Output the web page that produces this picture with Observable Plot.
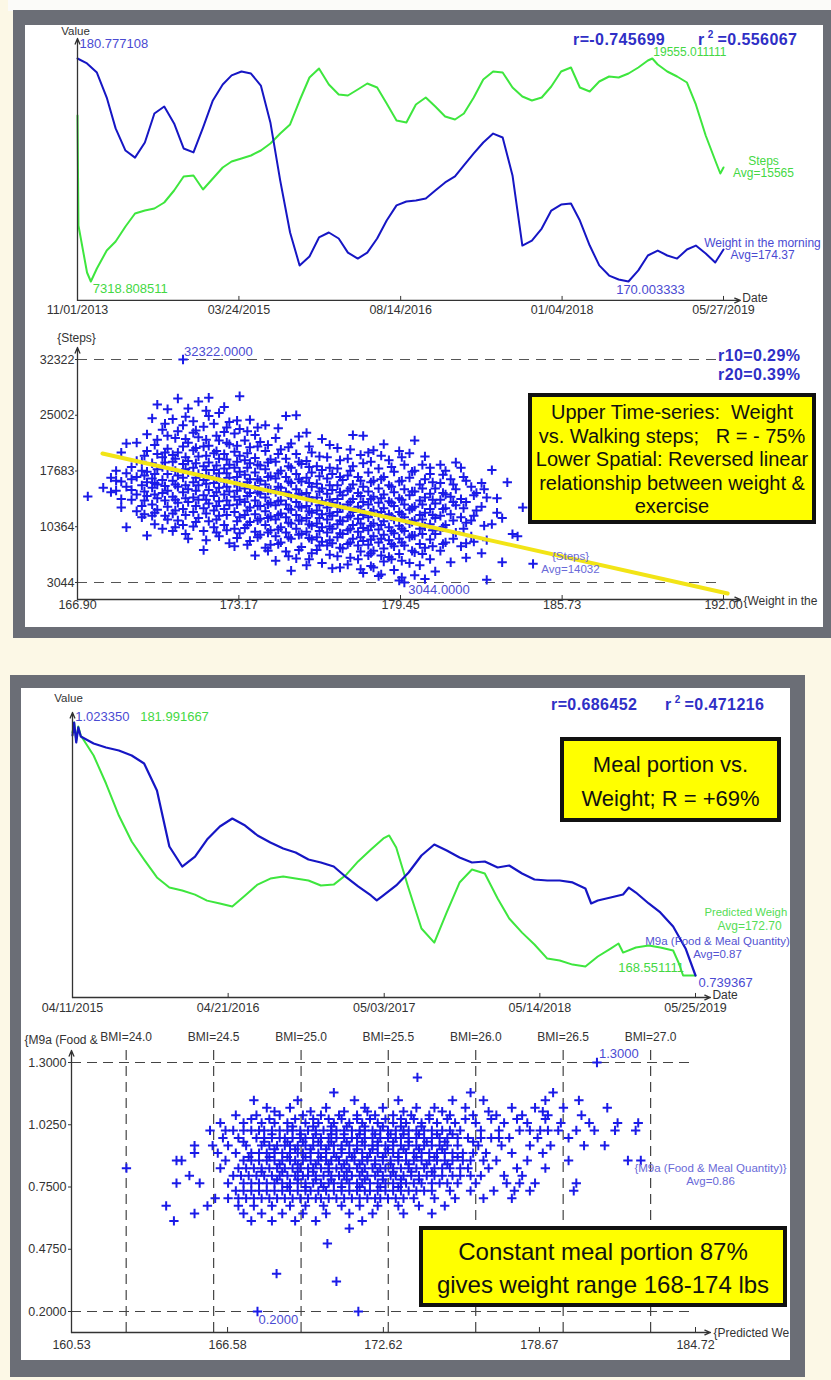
<!DOCTYPE html>
<html lang="en">
<head>
<meta charset="utf-8">
<title>Weight, walking steps and meal portion</title>
<script src="https://cdn.jsdelivr.net/npm/d3@7"></script>
<script src="https://cdn.jsdelivr.net/npm/@observablehq/plot@0.6"></script>
<style>
html,body{margin:0;padding:0}
body{width:831px;height:1380px;position:relative;overflow:hidden;background:#fcf8e6;font-family:"Liberation Sans",Arial,Helvetica,sans-serif}
.frame{position:absolute;background:#6b6e76}
.inner{position:absolute;background:#fff;overflow:hidden}
.origin{position:absolute;width:831px;height:1380px}
.chart{position:absolute;left:0;width:831px}
.rt{position:absolute;font-weight:bold;color:#2f2fc6;font-size:16px;line-height:16px;white-space:nowrap;letter-spacing:0.4px}
.rt sup{font-size:10px;vertical-align:0;position:relative;top:-7px;margin:0 4px 0 3px}
.ybox{position:absolute;box-sizing:border-box;background:#ffff00;border:4px solid #111;text-align:center;color:#111;white-space:pre}
</style>
</head>
<body>
<div style="position:absolute;left:8px;top:0;width:823px;height:11px;background:#fbfbf9"></div>
<div class="frame" style="left:13px;top:10px;width:818px;height:628px"></div>
<div class="inner" style="left:25px;top:25px;width:798px;height:602px"><div class="origin" id="c1" style="left:-25px;top:-25px"></div></div>
<div class="frame" style="left:10px;top:675px;width:795px;height:702px"></div>
<div class="inner" style="left:21px;top:688px;width:769px;height:672px"><div class="origin" id="c2" style="left:-21px;top:-688px"></div></div>

<div class="rt" style="left:573px;top:32px">r=-0.745699</div>
<div class="rt" style="left:698px;top:32px">r<sup>2</sup>=0.556067</div>
<div class="rt" style="left:718px;top:348px">r10=0.29%</div>
<div class="rt" style="left:718px;top:367px">r20=0.39%</div>
<div class="rt" style="left:551px;top:697px">r=0.686452</div>
<div class="rt" style="left:665px;top:697px">r<sup>2</sup>=0.471216</div>

<div class="ybox" style="left:528px;top:393px;width:288px;height:131px;font-size:20px;line-height:23.5px;padding-top:4px">Upper Time-series:  Weight
vs. Walking steps;   R = - 75%
Lower Spatial: Reversed linear
relationship between weight &amp;
exercise</div>
<div class="ybox" style="left:560px;top:737px;width:221px;height:85px;font-size:22px;line-height:34px;padding-top:7px">Meal portion vs.
Weight; R = +69%</div>
<div class="ybox" style="left:419px;top:1226px;width:368px;height:81px;font-size:24px;line-height:33px;padding-top:5px">Constant meal portion 87%
gives weight range 168-174 lbs</div>

<script>
// ---------------- DATA ----------------
// Panel 1, time series: weight in the morning (blue)
const weightDates = [
"2013-11-01","2013-12-01","2014-01-01","2014-02-01","2014-03-01","2014-04-01","2014-05-01","2014-06-01","2014-07-01","2014-08-01","2014-09-01","2014-10-01",
"2014-11-01","2014-12-01","2015-01-01","2015-02-01","2015-03-01","2015-04-01","2015-05-01","2015-06-01","2015-07-01","2015-08-01","2015-09-01","2015-10-01",
"2015-11-01","2015-12-01","2016-01-01","2016-02-01","2016-03-01","2016-04-01","2016-05-01","2016-06-01","2016-07-01","2016-08-01","2016-09-01","2016-10-01",
"2016-11-01","2016-12-01","2017-01-01","2017-02-01","2017-03-01","2017-04-01","2017-05-01","2017-06-01","2017-07-01","2017-08-01","2017-09-01","2017-10-01",
"2017-11-01","2017-12-01","2018-01-01","2018-02-01","2018-03-01","2018-04-01","2018-05-01","2018-06-01","2018-07-01","2018-08-01","2018-09-01","2018-10-01",
"2018-11-01","2018-12-01","2019-01-01","2019-02-01","2019-03-01","2019-04-01","2019-05-01","2019-05-27"];
const weightVals = [
180.777108,180.54,180.10,178.89,177.40,176.33,175.99,176.72,178.12,178.46,177.64,176.43,
176.24,177.44,178.75,179.52,179.96,180.15,180.05,179.47,177.69,174.88,172.37,170.78,
171.21,172.13,172.37,172.08,171.40,171.11,171.40,172.08,172.95,173.68,173.87,173.92,
174.01,174.40,174.79,175.08,175.61,176.19,176.72,177.15,176.96,175.13,171.74,171.98,
172.56,173.43,173.72,173.77,172.95,171.74,170.78,170.29,170.10,170.003333,170.54,171.26,
171.50,171.26,171.11,171.55,171.74,171.36,170.92,171.55];

// Panel 1, time series: steps (green)
const stepDates = ["2013-11-01","2013-11-04","2013-12-01","2013-12-13",
"2014-01-01","2014-02-01","2014-03-01","2014-04-01","2014-05-01","2014-06-01","2014-07-01","2014-08-01","2014-09-01","2014-10-01","2014-11-01","2014-12-01",
"2015-01-01","2015-02-01","2015-03-01","2015-04-01","2015-05-01","2015-06-01","2015-07-01","2015-08-01","2015-09-01","2015-10-01","2015-11-01","2015-12-01",
"2016-01-01","2016-02-01","2016-03-01","2016-04-01","2016-05-01","2016-06-01","2016-07-01","2016-08-01","2016-09-01","2016-10-01","2016-11-01","2016-12-01",
"2017-01-01","2017-02-01","2017-03-01","2017-04-01","2017-05-01","2017-06-01","2017-07-01","2017-08-01","2017-09-01","2017-10-01","2017-11-01","2017-12-01",
"2018-01-01","2018-02-01","2018-03-01","2018-04-01","2018-05-01","2018-06-01","2018-07-01","2018-08-01","2018-09-01","2018-10-01","2018-10-15","2018-11-01","2018-12-01",
"2019-01-01","2019-02-01","2019-03-01","2019-04-01","2019-05-01","2019-05-17","2019-05-27"];
const stepVals = [16427,10392,7813,7318.808511,
8032,9020,9514,10337,11050,11215,11325,11654,12312,13080,13135,12367,
12971,13574,13903,14068,14233,14507,14891,15440,15934,17250,18512,19006,
18128,17580,17525,17854,18183,17964,17086,16153,16043,17031,17415,16921,
16373,16208,16537,17415,18403,18842,18787,17964,17470,17250,17415,18019,
18842,19061,17964,17744,18293,18567,18512,18732,19061,19445,19555.011111,19226,18842,
18567,18238,17031,15330,13958,13245,13574];

const ts1TickDates = ["2013-11-01","2015-03-24","2016-08-14","2018-01-04","2019-05-27"];

// Panel 1, scatter: weight (lbs) column -> daily steps
const scatter1 = [
[167.3,[14340]],[167.9,[15500]],[168.2,[16800,14900]],[168.4,[17700,16400,15100]],
[168.6,[20100,14000,16300,12900]],[168.8,[21300,17400,15600,10300]],[169.0,[18200,16600,13900,15200]],
[169.2,[21400,19000,14600,12400,16900]],[169.4,[17700,15800,13100,11600,18900]],
[169.6,[22500,20300,16200,14400,9200,17600]],[169.8,[24600,18700,15500,13300,11800,16700]],
[170.0,[26400,21800,17900,15900,14100,12600,19900]],[170.2,[23100,19500,16500,14800,10100,18200]],
[170.4,[25800,20600,17300,15100,13000,11300,22300]],[170.6,[24500,18900,16400,14300,12100,19800,9800]],
[170.8,[27200,22900,20100,17100,15600,13500,11200]],[171.0,[32322,23700,18600,16800,14900,12700,10600,20900]],
[171.2,[25900,21400,19000,17500,15300,13600,8800]],[171.4,[24200,20400,18100,16200,14200,12300,10400,22700]],
[171.6,[26800,22100,19600,17300,15800,13900,11500]],[171.8,[23500,20900,18300,16500,14500,12800,7300,9800]],
[172.0,[27300,24900,21000,18800,17000,15200,13400,11100]],[172.2,[23900,20000,17800,16100,14400,12500,10300]],
[172.4,[25300,21700,19300,17400,15500,13700,11800,9100]],[172.6,[26100,22800,19900,18000,16300,14600,12700,10600]],
[172.8,[24100,21200,18500,16800,15000,13200,8200]],[173.0,[22600,20200,18100,16100,14300,12300,10100,7800]],
[173.2,[27500,23200,19700,17600,15800,13900,11600,9500]],[173.4,[21700,19100,17200,15400,13600,11900,10200]],
[173.6,[24400,20800,18700,16600,14800,12900,11000,8500]],[173.8,[22400,19400,17500,15700,13800,12000,9700,6600]],
[174.0,[21500,18400,16400,14700,13100,11400,9300]],[174.2,[23700,20300,17900,15900,14200,12400,10600,7600]],
[174.4,[19200,17000,15200,13500,11700,9900,8000]],[174.6,[22000,18900,16700,14900,13200,11300,9100,5900]],
[174.8,[20500,17700,15500,13800,12100,10300,8300]],[175.0,[24900,19300,16900,14900,13300,11600,9600,7100]],
[175.2,[21300,18100,16100,14300,12600,10800,8800,4600]],[175.4,[25000,19900,17300,15300,13600,11900,10100,6200]],
[175.6,[18600,16300,14600,12900,11200,9400,7700]],[175.8,[22700,19000,16800,14800,13100,11500,9700,5300]],
[176.0,[20100,17500,15600,13800,12200,10500,8700,6900]],[176.2,[18300,16000,14200,12500,10800,9000,7300]],
[176.4,[21900,17800,15400,13700,12000,10300,8400,5600]],[176.6,[19500,16700,14700,12900,11300,9600,7900]],
[176.8,[17300,15200,13500,11800,10100,8200,4900]],[177.0,[20700,18000,15800,14000,12300,10700,9000,6500]],
[177.2,[16500,14500,12800,11100,9400,7500]],[177.4,[19300,17100,15100,13300,11600,9900,8100,5400]],
[177.6,[22400,18300,15900,14000,12300,10600,8800]],[177.8,[16900,14800,13000,11400,9700,7900,6100]],
[178.0,[22300,18700,15600,13600,11900,10200,8500,4300]],[178.2,[20100,17500,15000,13300,11600,9900,8000,6600]],
[178.4,[20400,16400,14300,12500,10800,9100,7200,5000]],[178.6,[18000,15400,13500,11800,10000,8300,3900]],
[178.8,[21200,16900,14600,12800,11100,9300,7500,5800]],[179.0,[19100,15800,13700,12000,10300,8600,6400]],
[179.2,[17600,14900,13100,11300,9500,7800,4700]],[179.4,[20300,16300,14100,12300,10500,8800,6800,3300]],
[179.6,[18500,15300,13300,11600,9800,7900,3044]],[179.8,[20000,16800,14500,12600,10800,9000,5600]],
[180.0,[21700,17700,15000,13000,11200,9200,7000,4000]],[180.2,[15900,13800,11900,10100,8100,5300]],
[180.4,[19600,16600,14200,12200,10400,7600,3500]],[180.6,[18100,17300,14700,12700,10700,8700,6100]],
[180.8,[15400,13400,11500,9400,4500]],[181.0,[18500,16100,13900,11800,9900,7200]],
[181.2,[17700,14600,12800,10600,8300]],[181.4,[16600,14300,12000,5700]],[181.6,[18800,15300,13200,9600]],
[181.8,[18100,14000,11600,7800]],[182.0,[16400,13600,10900,8200,6300]],[182.2,[15600,11200,9100]],
[182.4,[14800,12500]],[182.6,[16100,13000,6900]],[182.8,[14200,8600,3400]],[183.0,[17800,10700]],
[183.2,[14100,12200]],[183.4,[5700,11500]],[183.6,[16200]],[183.8,[9400]],[184.0,[9100]],[184.2,[12900]],[184.6,[5500]]
];
// Panel 1, scatter: more days in the dense core
const scatter1Core = [
[169.5,[19700,17100,15000,13800,12000]],[169.9,[21100,17300,16100,14600,12200,10700]],
[170.3,[23900,20100,18800,15700,13800,11800]],[170.7,[22000,19300,17700,15900,13900,12500,10300]],
[171.1,[24800,21900,19500,17900,15800,14100,11900,9400]],[171.5,[23000,20700,18700,16800,15100,13100,11000]],
[171.9,[25600,21800,19700,17800,16000,13900,12100,8600]],[172.3,[22300,20300,18400,16700,14900,13100,11300,9600]],
[172.7,[23400,21400,19200,17400,15600,13800,11900,9900]],[173.1,[24300,21000,18900,16900,15100,13300,11100,8900]],
[173.5,[22900,20000,18100,16200,14400,12500,10600,8000]],[173.9,[23400,20900,18500,16600,14900,13100,11200,9000]],
[174.3,[21100,18800,16900,15100,13300,11500,9600,7200]],[174.7,[23300,19900,17400,15600,13700,11900,10000,8100]],
[175.1,[20800,18300,16300,14500,12700,10900,9000,6500]],[175.5,[22200,18900,16600,14700,13000,11200,9300,7300]],
[175.9,[20900,18200,16100,14200,12400,10700,8900,6100]],[176.3,[19600,17000,15000,13200,11500,9800,7900]],
[176.7,[21100,18100,15800,13900,12100,10400,8600,6700]],[177.1,[19100,16900,14900,13000,11200,9500,7600,5000]],
[177.5,[20500,17700,15400,13600,11800,10100,8300,6300]],[177.9,[19800,16400,14400,12600,10800,9000,7100,4800]],
[178.3,[18900,16200,14000,12200,10500,8700,6900,5200]],[178.7,[19700,16600,14100,12300,10600,8800,6600,4100]],
[179.1,[18200,15600,13500,11700,9800,8100,6100]],[179.5,[19500,16400,13900,12000,10100,8300,5900,3700]],
[179.9,[17600,15000,12800,11000,9200,7200]],[180.3,[18500,15400,13300,11300,9400,6800]],
[180.7,[16200,13900,11900,9900,7800]],[181.1,[17200,14800,12700,10300,8100]],
[181.5,[15900,13600,11200,8800]],[181.9,[16900,12800,10100]],[182.3,[14500,11800,8400]],[182.7,[15300,10500]]
];
const fit1Weights = [167.87, 192.16];
const fit1Steps = [19981, 1600];
const s1XTicks = [166.90, 173.17, 179.45, 185.73, 192.00];
const s1YTicks = [3044, 10364, 17683, 25002, 32322];

// Panel 2, time series: M9a food & meal quantity (blue)
const mealDates = ["2015-04-11","2015-04-15","2015-04-20","2015-04-25","2015-05-01","2015-06-01","2015-07-01","2015-08-01","2015-09-01","2015-10-01","2015-11-01","2015-12-01",
"2016-01-01","2016-02-01","2016-03-01","2016-04-01","2016-05-01","2016-06-01","2016-07-01","2016-08-01","2016-09-01","2016-10-01","2016-11-01","2016-12-01",
"2017-01-01","2017-02-01","2017-03-01","2017-04-01","2017-04-15","2017-05-01","2017-06-01","2017-07-01","2017-08-01","2017-09-01","2017-10-01","2017-11-01","2017-12-01",
"2018-01-01","2018-02-01","2018-03-01","2018-04-01","2018-05-01","2018-06-01","2018-07-01","2018-08-01","2018-09-01","2018-09-15","2018-10-01","2018-11-01","2018-12-01","2018-12-15",
"2019-01-01","2019-02-01","2019-03-01","2019-04-01","2019-05-01","2019-05-25"];
const mealVals = [1.0088,1.02335,1.0009,1.0178,1.0077,0.9998,0.9953,0.9919,0.9863,0.9773,0.9470,0.8842,
0.8617,0.8729,0.8920,0.9066,0.9156,0.9077,0.8965,0.8886,0.8819,0.8774,0.8696,0.8662,
0.8617,0.8494,0.8393,0.8292,0.8236,0.8292,0.8404,0.8550,0.8741,0.8864,0.8797,0.8718,0.8662,
0.8673,0.8606,0.8628,0.8539,0.8471,0.8460,0.8460,0.8438,0.8370,0.8202,0.8236,0.8269,0.8303,0.8381,
0.8325,0.8202,0.8101,0.7944,0.7697,0.739367];

// Panel 2, time series: predicted weight (green)
const predDates = ["2015-04-11","2015-04-15","2015-04-20","2015-04-25","2015-05-01","2015-06-01","2015-07-01","2015-08-01","2015-09-01","2015-10-01","2015-11-01","2015-12-01",
"2016-01-01","2016-02-01","2016-03-01","2016-04-01","2016-05-01","2016-06-01","2016-07-01","2016-08-01","2016-09-01","2016-10-01","2016-11-01","2016-12-01",
"2017-01-01","2017-02-01","2017-03-01","2017-04-01","2017-05-01","2017-05-15","2017-06-01","2017-07-01","2017-08-01","2017-09-01","2017-10-01","2017-11-01","2017-12-01",
"2018-01-01","2018-02-01","2018-03-01","2018-04-01","2018-05-01","2018-06-01","2018-07-01","2018-08-01","2018-09-01","2018-10-01","2018-11-01","2018-11-20","2018-12-01",
"2019-01-01","2019-02-01","2019-03-01","2019-04-01","2019-04-15","2019-04-25","2019-05-25"];
const predVals = [181.46,181.991667,181.03,181.78,181.30,180.24,178.75,177.05,175.67,174.71,173.76,173.23,
173.07,172.85,172.53,172.38,172.22,172.80,173.38,173.70,173.81,173.70,173.60,173.33,
173.38,173.92,174.61,175.24,175.83,175.99,175.35,173.17,171.05,170.30,171.90,173.49,174.18,
173.97,172.64,171.58,170.83,170.20,169.45,169.35,169.13,169.03,169.56,169.98,170.25,169.77,
170.04,170.14,170.04,169.88,169.19,168.551111,168.551111];

const ts2TickDates = ["2015-04-11","2016-04-21","2017-05-03","2018-05-14","2019-05-25"];

// Panel 2, scatter: M9a level -> predicted weights
const scatter2 = [
[1.30,[180.9]],[1.234,[173.94]],[1.167,[170.7,176.0,179.2]],
[1.133,[167.6,169.3,171.5,173.2,175.3,176.5,178.9,180.2]],
[1.10,[168.1,169.0,170.4,171.9,172.6,173.9,174.6,175.8,177.6,178.5,179.6,181.3]],
[1.067,[166.9,167.7,168.6,169.5,170.2,170.9,171.6,172.3,173.0,173.7,174.4,175.2,176.1,177.0,178.0,179.0,180.3]],
[1.033,[166.3,167.2,167.9,168.4,168.9,169.6,170.1,170.7,171.3,171.8,172.4,173.0,173.5,174.1,174.7,175.4,176.2,177.3,178.2,179.5,180.6,181.7,182.5]],
[1.017,[169.1,169.9,170.6,171.2,171.9,172.6,173.3,174.1]],
[1.00,[165.9,166.8,167.5,168.0,168.6,169.1,169.7,170.3,170.8,171.4,171.9,172.5,173.1,173.6,174.2,174.9,175.6,176.4,177.1,177.9,178.3,178.7,179.0,179.4,180.1,180.8,181.6,182.4]],
[0.983,[168.3,169.4,170.0,170.6,171.1,171.7,172.3,172.9,173.4,174.0,174.7,175.3]],
[0.967,[167.0,167.7,168.3,168.8,169.4,169.9,170.5,171.1,171.6,172.2,172.8,173.3,173.9,174.5,175.1,175.9,176.8,177.5,178.6,179.8]],
[0.95,[167.2,168.0,168.9,169.5,170.1,170.6,171.2,171.8,172.4,173.0,173.6,174.3,175.0,176.1]],
[0.933,[165.3,166.0,166.6,167.3,167.9,168.5,169.0,169.6,170.2,170.7,171.3,171.9,172.4,173.0,173.6,174.2,174.8,175.5,176.3,177.2,178.3,179.1,180.4,181.2]],
[0.917,[168.4,169.2,169.8,170.4,171.0,171.6,172.2,172.8,173.4,174.0,174.9]],
[0.90,[165.3,166.2,166.9,167.5,168.1,168.7,169.3,169.8,170.4,171.0,171.5,172.1,172.7,173.2,173.8,174.4,175.0,175.7,176.6,177.6,178.8]],
[0.883,[167.4,168.2,168.9,169.6,170.2,170.8,171.4,172.0,172.6,173.2,173.9,174.6,175.5]],
[0.867,[164.6,164.8,166.5,167.2,167.8,168.4,169.0,169.5,170.1,170.6,171.2,171.8,172.3,172.9,173.5,174.1,174.7,175.3,176.0,177.0,178.2,179.8,182.1,182.6]],
[0.85,[168.6,169.3,170.0,170.5,171.1,171.7,172.3,172.9,173.6,174.3,175.1]],
[0.833,[162.66,166.3,167.0,167.6,168.2,168.8,169.4,169.9,170.5,171.0,171.6,172.2,172.7,173.3,173.9,174.6,175.2,175.9,176.7,177.8,178.9]],
[0.817,[167.9,168.7,169.3,169.9,170.5,171.2,171.8,172.4,173.0,173.7,174.5]],
[0.80,[165.1,166.8,167.4,168.0,168.6,169.2,169.7,170.3,170.9,171.4,172.0,172.6,173.1,173.7,174.3,174.9,175.6,176.4,177.3,178.0]],
[0.783,[168.5,169.3,170.0,170.6,171.2,171.9,172.6,173.3,174.0]],
[0.767,[164.6,165.5,166.6,167.2,167.8,168.4,169.0,169.6,170.2,170.7,171.3,171.8,172.4,173.0,173.5,174.1,174.8,175.5,176.2,177.4,177.9,178.5,180.1]],
[0.75,[168.9,169.6,170.3,171.0,171.7,172.5,173.2]],
[0.733,[166.9,167.5,168.1,168.7,169.3,169.8,170.4,171.0,171.6,172.1,172.7,173.3,173.9,174.5,175.2,176.0,176.9,177.7,178.3,180.0]],
[0.70,[166.1,166.6,167.3,167.9,168.5,169.1,169.7,170.2,170.8,171.4,172.0,172.5,173.1,173.8,174.6,175.4,176.5,177.6]],
[0.667,[164.2,165.8,167.0,167.6,168.3,169.0,169.6,170.3,171.0,171.7,172.4,173.2,174.0,175.0]],
[0.633,[165.3,167.2,167.9,168.7,169.5,170.4,171.3,172.2,173.4,174.5]],
[0.60,[164.5,167.5,168.3,169.2,170.0,171.8]],
[0.567,[171.3]],[0.50,[170.45]],[0.367,[168.48]],[0.333,[170.8]],[0.20,[167.74,171.65]]
];
// Panel 2, scatter: more days in the dense core
const scatter2Core = [
[1.083,[168.4,169.8,171.1,172.0,173.4,174.9,176.7,178.8]],
[1.05,[167.5,168.2,169.2,169.9,170.5,171.0,171.6,172.1,172.7,173.3,173.8,174.4,175.1,175.8,176.8,177.8,178.9]],
[1.00,[166.5,167.2,167.8,168.3,168.9,169.4,170.0,170.6,171.1,171.7,172.2,172.8,173.4,173.9,174.5,175.2]],
[0.967,[166.4,168.0,168.6,169.1,169.6,170.2,170.8,171.4,171.9,172.5,173.1,173.6,174.2,174.8,175.5,176.4,177.1]],
[0.933,[168.2,168.8,169.3,169.9,170.5,171.0,171.6,172.2,172.7,173.3,173.9,174.5,175.1]],
[0.90,[167.8,168.4,169.0,169.5,170.1,170.7,171.3,171.8,172.4,173.0,173.5,174.1,174.7,175.3,176.1]],
[0.867,[167.5,168.1,168.7,169.2,169.8,170.4,170.9,171.5,172.0,172.6,173.2,173.8,174.4,175.0,175.7,176.5]],
[0.833,[167.3,167.9,168.5,169.1,169.7,170.2,170.8,171.3,171.9,172.5,173.0,173.6,174.2,174.9,175.6]],
[0.80,[167.1,167.7,168.3,168.9,169.5,170.0,170.6,171.1,171.7,172.3,172.9,173.4,174.0,174.6,175.3,176.0]],
[0.767,[167.5,168.1,168.7,169.3,169.9,170.5,171.0,171.6,172.1,172.7,173.3,173.8,174.5,175.1]],
[0.733,[167.2,167.8,168.4,169.0,169.6,170.1,170.7,171.3,171.9,172.4,173.0,173.6,174.2]],
[0.70,[167.0,167.6,168.2,168.8,169.4,170.0,170.5,171.1,171.7,172.3,172.8,173.4]]
];
const bmiValues = [24.0, 24.5, 25.0, 25.5, 26.0, 26.5, 27.0];
const bmiWeights = [162.65, 166.04, 169.43, 172.81, 176.20, 179.59, 182.98];
const s2XTicks = [160.53, 166.58, 172.62, 178.67, 184.72];
const s2YTicks = [0.2, 0.475, 0.75, 1.025, 1.3];

// ---------------- STYLE ----------------
const FONT = '"Liberation Sans", Arial, Helvetica, sans-serif';
const AXIS = "#333";
const BLUE = "#1616c4", GREEN = "#3ee63e";
const LBL_BLUE = "#4a4ad2", LBL_GREEN = "#44d844", SOFT_BLUE = "#6a6ad8";
const PLUS = "#1a1ae8", YELLOW = "#f2e416";
const parse = d3.utcParse("%Y-%m-%d");
const fmtDate = d3.utcFormat("%m/%d/%Y");
const st = {background: "transparent", overflow: "visible", fontFamily: FONT, fontSize: "12.5px", color: AXIS};

function pt(x, y, text, o) { return Plot.text([{x, y}], {x: "x", y: "y", text: () => text, ...o}); }
function axArrow(x1, y1, x2, y2) {
  return Plot.arrow([{x1, y1, x2, y2}], {x1: "x1", y1: "y1", x2: "x2", y2: "y2", stroke: AXIS, strokeWidth: 1.3, headLength: 7, headAngle: 45});
}
function mount(id, top, svg) {
  const d = document.createElement("div");
  d.className = "chart";
  d.style.top = top + "px";
  d.appendChild(svg);
  document.getElementById(id).appendChild(d);
}

// ---------------- PANEL 1 : TIME SERIES ----------------
{
  const wLo = d3.min(weightVals), wHi = d3.max(weightVals);
  const sLo = d3.min(stepVals), sHi = d3.max(stepVals);
  const wData = weightDates.map((d, i) => ({date: parse(d), v: weightVals[i], n: (weightVals[i] - wLo) / (wHi - wLo)}));
  const sData = stepDates.map((d, i) => ({date: parse(d), v: stepVals[i], n: (stepVals[i] - sLo) / (sHi - sLo)}));
  const ticks = ts1TickDates.map(parse);
  const t0 = ticks[0], tEnd = parse("2019-07-19");
  const BASE = -0.085, TOP = 1.09;
  const wMax = d3.greatest(wData, d => d.v), wMin = d3.least(wData, d => d.v);
  const sMax = d3.greatest(sData, d => d.v), sMin = d3.least(sData, d => d.v);
  const chart = Plot.plot({
    width: 831, height: 300, marginLeft: 77, marginRight: 108, marginTop: 33, marginBottom: 25,
    style: st,
    x: {type: "utc", domain: [ticks[0], ticks[4]], label: null},
    y: {domain: [0, 1], range: [256, 33], axis: null, label: null},
    marks: [
      Plot.line(sData, {x: "date", y: "n", stroke: GREEN, strokeWidth: 2}),
      Plot.line(wData, {x: "date", y: "n", stroke: BLUE, strokeWidth: 2}),
      axArrow(t0, BASE, tEnd, BASE),
      axArrow(t0, BASE, t0, TOP),
      Plot.ruleX(ticks.slice(1), {y1: BASE, y2: BASE + 0.018, stroke: AXIS}),
      Plot.axisX({ticks, tickFormat: fmtDate, tickSize: 0, tickPadding: 5, color: AXIS, label: null}),
      pt(tEnd, BASE, "Date", {dx: 2, dy: -2, textAnchor: "start", fill: AXIS, fontSize: 12}),
      pt(t0, TOP, "Value", {dy: -7, dx: -2, fill: AXIS, fontSize: 11.5}),
      Plot.text([wMax], {x: "date", y: "n", text: d => d.v.toFixed(6), dx: 2, dy: -15, textAnchor: "start", fill: LBL_BLUE, fontSize: 13}),
      Plot.text([wMin], {x: "date", y: "n", text: d => d.v.toFixed(6), dx: 22, dy: 8, fill: LBL_BLUE, fontSize: 13}),
      Plot.text([sMax], {x: "date", y: "n", text: d => d.v.toFixed(6), dx: 1, dy: -6, textAnchor: "start", fill: LBL_GREEN, fontSize: 12}),
      Plot.text([sMin], {x: "date", y: "n", text: d => d.v.toFixed(6), dx: 2, dy: 7, textAnchor: "start", fill: LBL_GREEN, fontSize: 13}),
      Plot.text([sData[sData.length - 1]], {x: "date", y: "n", text: () => "Steps\nAvg=15565", dx: 40, dy: 0, lineHeight: 0.95, fill: LBL_GREEN, fontSize: 12}),
      Plot.text([wData[wData.length - 1]], {x: "date", y: "n", text: () => "Weight in the morning\nAvg=174.37", dx: 39, dy: 0, lineHeight: 1, fill: LBL_BLUE, fontSize: 12})
    ]
  });
  mount("c1", 25, chart);
}

// ---------------- PANEL 1 : SCATTER ----------------
{
  const pts = scatter1.concat(scatter1Core).flatMap(([w, arr]) => arr.map(s => ({w, s})));
  const fit = fit1Weights.map((w, i) => ({w, s: fit1Steps[i]}));
  const BASE = 812, TOP = 33897, XEND = 192.66;
  const sMax = d3.greatest(pts, d => d.s), sMin = d3.least(pts, d => d.s);
  const chart = Plot.plot({
    width: 831, height: 300, marginLeft: 77, marginRight: 108, marginTop: 34, marginBottom: 26,
    style: st,
    x: {domain: [s1XTicks[0], s1XTicks[4]], label: null},
    y: {domain: [s1YTicks[0], s1YTicks[4]], range: [257, 34], label: null},
    marks: [
      Plot.ruleY([s1YTicks[0], s1YTicks[4]], {x1: s1XTicks[0], x2: s1XTicks[4], stroke: "#555", strokeWidth: 1.2, strokeDasharray: "10,7"}),
      Plot.dot(pts, {x: "w", y: "s", symbol: "plus", r: 3.1, stroke: PLUS, fill: "none", strokeWidth: 2}),
      Plot.line(fit, {x: "w", y: "s", stroke: YELLOW, strokeWidth: 4}),
      axArrow(s1XTicks[0], BASE, XEND, BASE),
      axArrow(s1XTicks[0], BASE, s1XTicks[0], TOP),
      Plot.ruleX(s1XTicks.slice(1), {y1: BASE, y2: BASE + 525, stroke: AXIS}),
      Plot.axisX({ticks: s1XTicks, tickFormat: d => d.toFixed(2), tickSize: 0, tickPadding: 1, color: AXIS, label: null}),
      Plot.axisY({ticks: s1YTicks, tickFormat: d => String(d), tickSize: 2, tickPadding: 1, color: AXIS, label: null}),
      pt(s1XTicks[0], TOP, "{Steps}", {dy: -9, dx: -1, fill: AXIS, fontSize: 12}),
      pt(XEND, BASE, "{Weight in the", {dx: 3, dy: 2, textAnchor: "start", fill: AXIS, fontSize: 12}),
      Plot.text([sMax], {x: "w", y: "s", text: d => d.s.toFixed(4), dx: 1, dy: -8, textAnchor: "start", fill: LBL_BLUE, fontSize: 13}),
      Plot.text([sMin], {x: "w", y: "s", text: d => d.s.toFixed(4), dx: 4, dy: 7, textAnchor: "start", fill: LBL_BLUE, fontSize: 13}),
      Plot.text(["{Steps}\nAvg=14032"], {frameAnchor: "bottom-right", text: d => d, dx: -153, dy: -37, textAnchor: "middle", lineAnchor: "middle", lineHeight: 1.1, fill: SOFT_BLUE, fontSize: 11.5})
    ]
  });
  mount("c1", 325, chart);
}

// ---------------- PANEL 2 : TIME SERIES ----------------
{
  const mLo = d3.min(mealVals), mHi = d3.max(mealVals);
  const pLo = d3.min(predVals), pHi = d3.max(predVals);
  const mData = mealDates.map((d, i) => ({date: parse(d), v: mealVals[i], n: (mealVals[i] - mLo) / (mHi - mLo)}));
  const pData = predDates.map((d, i) => ({date: parse(d), v: predVals[i], n: (predVals[i] - pLo) / (pHi - pLo)}));
  const ticks = ts2TickDates.map(parse);
  const t0 = ticks[0], tEnd = parse("2019-06-30");
  const BASE = -0.087, TOP = 1.04;
  const mMax = d3.greatest(mData, d => d.v), mMin = d3.least(mData, d => d.v);
  const pMax = d3.greatest(pData, d => d.v), pMin = d3.least(pData, d => d.v);
  const pEnd = pData[pData.length - 1], mEnd = mData[mData.length - 1];
  const chart = Plot.plot({
    width: 831, height: 330, marginLeft: 72, marginRight: 136, marginTop: 34, marginBottom: 21,
    style: st,
    x: {type: "utc", domain: [ticks[0], ticks[4]], label: null},
    y: {domain: [0, 1], range: [287, 34], axis: null, label: null},
    marks: [
      Plot.line(pData, {x: "date", y: "n", stroke: GREEN, strokeWidth: 2}),
      Plot.line(mData, {x: "date", y: "n", stroke: BLUE, strokeWidth: 2.2}),
      axArrow(t0, BASE, tEnd, BASE),
      axArrow(t0, BASE, t0, TOP),
      Plot.ruleX(ticks.slice(1), {y1: BASE, y2: BASE + 0.016, stroke: AXIS}),
      Plot.axisX({ticks, tickFormat: fmtDate, tickSize: 0, tickPadding: 6, color: AXIS, label: null}),
      pt(tEnd, BASE, "Date", {dx: 2, dy: -2, textAnchor: "start", fill: AXIS, fontSize: 12}),
      pt(t0, TOP, "Value", {dy: -14, dx: -4, fill: AXIS, fontSize: 11.5}),
      Plot.text([mMax], {x: "date", y: "n", text: d => d.v.toFixed(6), dx: 1, dy: -6, textAnchor: "start", fill: LBL_BLUE, fontSize: 13}),
      Plot.text([pMax], {x: "date", y: "n", text: d => d.v.toFixed(6), dx: 66, dy: -6, textAnchor: "start", fill: LBL_GREEN, fontSize: 13}),
      Plot.text([pMin], {x: "date", y: "n", text: d => d.v.toFixed(6), dx: 1, dy: -8, textAnchor: "end", fill: LBL_GREEN, fontSize: 13}),
      Plot.text([mMin], {x: "date", y: "n", text: d => d.v.toFixed(6), dx: 3, dy: 7, textAnchor: "start", fill: LBL_BLUE, fontSize: 13}),
      Plot.text([pEnd], {x: "date", y: "n", text: () => "Predicted Weigh", dx: 9, dy: -63, textAnchor: "start", fill: "#55dd55", fontSize: 11.3}),
      Plot.text([pEnd], {x: "date", y: "n", text: () => "Avg=172.70", dx: 54, dy: -49, fill: "#55dd55", fontSize: 12}),
      Plot.text([mEnd], {x: "date", y: "n", text: () => "M9a (Food & Meal Quantity)\nAvg=0.87", dx: 22, dy: -28, lineHeight: 1.1, fill: "#5353d2", fontSize: 11.5})
    ]
  });
  mount("c2", 688, chart);
}

// ---------------- PANEL 2 : SCATTER ----------------
{
  const pts = scatter2.concat(scatter2Core).flatMap(([m, arr]) => arr.map(w => ({w, m})));
  const bmi = bmiValues.map((b, i) => ({b, w: bmiWeights[i]}));
  const BASE = 0.1072, TOP = 1.353, BMI_TOP = 1.366, XEND = 185.3;
  const mMax = d3.greatest(pts, d => d.m), mMin = d3.least(pts, d => d.m);
  const chart = Plot.plot({
    width: 831, height: 340, marginLeft: 71, marginRight: 136, marginTop: 44, marginBottom: 26,
    style: st,
    x: {domain: [s2XTicks[0], s2XTicks[4]], label: null},
    y: {domain: [s2YTicks[0], s2YTicks[4]], range: [293, 44], label: null},
    marks: [
      Plot.ruleX(bmi, {x: "w", y1: BASE, y2: BMI_TOP, stroke: "#444", strokeWidth: 1.2, strokeDasharray: "10,6"}),
      Plot.ruleY([s2YTicks[0], s2YTicks[4]], {x1: s2XTicks[0], x2: s2XTicks[4], stroke: "#444", strokeWidth: 1.2, strokeDasharray: "10,6"}),
      Plot.text(bmi, {x: "w", y: BMI_TOP, text: d => "BMI=" + d.b.toFixed(1), dy: -10, fill: AXIS, fontSize: 12}),
      Plot.dot(pts, {x: "w", y: "m", symbol: "plus", r: 3.1, stroke: PLUS, fill: "none", strokeWidth: 2}),
      axArrow(s2XTicks[0], BASE, XEND, BASE),
      axArrow(s2XTicks[0], BASE, s2XTicks[0], TOP),
      Plot.ruleX(s2XTicks.slice(1), {y1: BASE, y2: BASE + 0.022, stroke: AXIS}),
      Plot.axisX({ticks: s2XTicks, tickFormat: d => d.toFixed(2), tickSize: 0, tickPadding: 8, color: AXIS, label: null}),
      Plot.axisY({ticks: s2YTicks, tickFormat: d => d.toFixed(4), tickSize: 3, tickPadding: 2, color: AXIS, label: null}),
      pt(s2XTicks[0], TOP, "{M9a (Food &", {dx: -47, dy: -10, textAnchor: "start", fill: AXIS, fontSize: 12}),
      pt(XEND, BASE, "{Predicted We", {dx: 3, dy: 1, textAnchor: "start", fill: AXIS, fontSize: 12}),
      Plot.text([mMax], {x: "w", y: "m", text: d => d.m.toFixed(4), dx: 2, dy: -9, textAnchor: "start", fill: LBL_BLUE, fontSize: 13}),
      Plot.text([mMin], {x: "w", y: "m", text: d => d.m.toFixed(4), dx: 1, dy: 8, textAnchor: "start", fill: LBL_BLUE, fontSize: 13}),
      Plot.text(["{M9a (Food & Meal Quantity)}\nAvg=0.86"], {frameAnchor: "top-right", text: d => d, dx: 15, dy: 112, textAnchor: "middle", lineAnchor: "middle", lineHeight: 1.15, fill: SOFT_BLUE, fontSize: 11.5})
    ]
  });
  mount("c2", 1018, chart);
}
</script>
</body>
</html>
